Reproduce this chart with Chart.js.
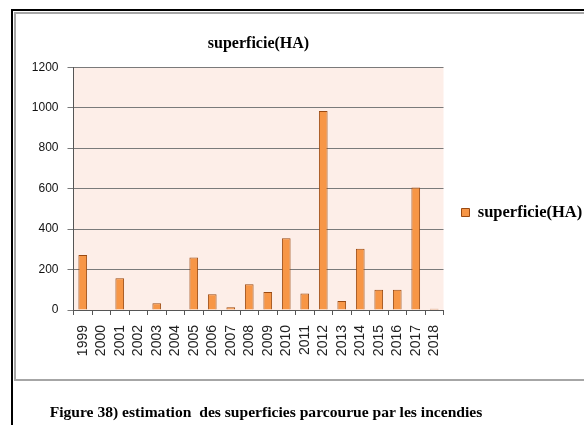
<!DOCTYPE html>
<html>
<head>
<meta charset="utf-8">
<script src="https://cdn.jsdelivr.net/npm/chart.js@4"></script>
<style>
    body { margin: 0; width: 584px; height: 425px; background: #fff; overflow: hidden; position: relative; }
    .page { position: absolute; left: 11px; top: 9px; right: 0; bottom: 0; border-top: 2px solid #000; border-left: 2px solid #000; }
    .frame { position: absolute; left: 14px; top: 12px; right: -4px; height: 365px; border: 2px solid #a6a6a6; }
    #surfaceChart { position: absolute; left: 0; top: 0; }
    .caption { position: absolute; left: 0; width: 532px; top: 403px; text-align: center; font: bold 15.6px "Liberation Serif", serif; color: #000; white-space: pre; }
</style>
</head>
<body>
<div class="page"></div>
<div class="frame"></div>
<canvas id="surfaceChart" width="584" height="425"></canvas>
<div class="caption">Figure 38) estimation  des superficies parcourue par les incendies</div>

<script>
const years = ['1999', '2000', '2001', '2002', '2003', '2004', '2005', '2006', '2007', '2008',
               '2009', '2010', '2011', '2012', '2013', '2014', '2015', '2016', '2017', '2018'];
const surfaceHA = [272, 0, 157, 0, 33, 0, 260, 78, 13, 127,
                   89, 354, 82, 984, 44, 303, 100, 100, 606, 6];
const yTicks = [0, 200, 400, 600, 800, 1000, 1200];

// pink plot background like the excel chart
const plotBackground = {
    id: 'plotBackground',
    beforeDraw(chart) {
        const a = chart.chartArea;
        const ctx = chart.ctx;
        ctx.save();
        ctx.fillStyle = '#fdeee8';
        ctx.fillRect(a.left, a.top, a.right - a.left, a.bottom - a.top);
        ctx.restore();
    }
};

function initChart() {
    const ctx = document.getElementById('surfaceChart').getContext('2d');

    new Chart(ctx, {
        type: 'bar',
        data: {
            labels: years,
            datasets: [{
                label: 'superficie(HA)',
                data: surfaceHA,
                backgroundColor: '#f79646',
                borderColor: '#9a4a12',
                borderWidth: 1,
                barPercentage: 0.47,
                categoryPercentage: 1
            }]
        },
        options: {
            responsive: false,
            animation: false,
            devicePixelRatio: 1,
            layout: { padding: 0 },
            plugins: {
                title: {
                    display: true,
                    text: 'superficie(HA)',
                    fullSize: false,
                    color: '#000',
                    font: { family: 'Liberation Serif', size: 16, weight: 'bold', lineHeight: 1.2 },
                    padding: { top: 34, bottom: 14 }
                },
                legend: {
                    position: 'right',
                    maxWidth: 140.5,
                    labels: {
                        boxWidth: 8,
                        boxHeight: 8,
                        padding: 18,
                        color: '#000',
                        font: { family: 'Liberation Serif', size: 16.5, weight: 'bold' }
                    }
                },
                tooltip: { enabled: false }
            },
            scales: {
                x: {
                    offset: true,
                    grid: {
                        offset: true,
                        drawOnChartArea: false,
                        drawTicks: true,
                        tickLength: 5,
                        color: '#555'
                    },
                    border: { color: '#555', width: 1 },
                    ticks: {
                        autoSkip: false,
                        minRotation: 90,
                        maxRotation: 90,
                        padding: 10,
                        color: '#222',
                        font: { family: 'Liberation Sans', size: 14 }
                    },
                    afterFit: s => { s.height = 115; }
                },
                y: {
                    min: 0,
                    max: 1200,
                    grid: {
                        color: '#7a7a7a',
                        tickLength: 6
                    },
                    border: { color: '#555', width: 1 },
                    afterBuildTicks: s => { s.ticks = yTicks.map(v => ({ value: v })); },
                    ticks: {
                        padding: 9,
                        color: '#111',
                        font: { family: 'Liberation Sans', size: 12 },
                        callback: v => String(v)
                    },
                    afterFit: s => { s.width = 73.5; }
                }
            }
        },
        plugins: [plotBackground]
    });
}

initChart();
</script>
</body>
</html>
